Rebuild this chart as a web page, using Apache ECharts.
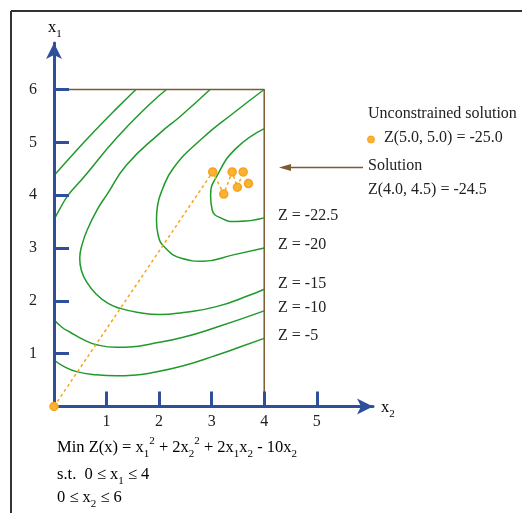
<!DOCTYPE html>
<html lang="en">
<head>
    <meta charset="UTF-8">
    <title>Min Z(x) contours</title>
    <style>
        *{
            margin:0;
            padding:0;
            box-sizing:border-box;
        }
        html, body{
            width:100%;
            height:100%;
            background:#fff;
        }
        #myChart{
            width:522px;
            height:513px;
        }
    </style>
</head>
<body>
<div id="myChart"></div>
<script src="https://cdn.jsdelivr.net/npm/echarts@6/dist/echarts.min.js"></script>
<script>
    // tick values on both axes
    var xTicks = [1, 2, 3, 4, 5];
    var yTicks = [1, 2, 3, 4, 5, 6];

    // contour lines, points as [x2, x1]
    var zMinus5 = [[0, 0.88], [0.2, 0.75], [0.43, 0.66], [0.8, 0.6], [1.19, 0.58], [1.5, 0.59], [1.82, 0.63], [2.46, 0.77], [3.09, 0.97], [3.55, 1.13], [4, 1.29]];
    var zMinus10 = [[0, 1.64], [0.15, 1.5], [0.3, 1.41], [0.55, 1.27], [0.81, 1.17], [1.19, 1.12], [1.5, 1.13], [1.82, 1.18], [2.46, 1.31], [3.09, 1.5], [4, 1.81]];
    var zMinus15 = [[2.97, 6], [2.39, 5.48], [2.01, 5.17], [1.38, 4.57], [1.0, 4.0], [0.83, 3.74], [0.64, 3.36], [0.53, 3.05], [0.49, 2.8], [0.52, 2.58], [0.62, 2.36], [0.8, 2.13], [1.03, 1.95], [1.25, 1.86], [1.6, 1.78], [2.01, 1.74], [2.46, 1.78], [3.09, 1.89], [3.73, 2.11], [4, 2.22]];
    var zMinus20 = [[4, 6], [3.41, 5.55], [2.78, 5.04], [2.27, 4.51], [2.05, 4.08], [1.97, 3.8], [1.95, 3.53], [1.98, 3.25], [2.12, 3.0], [2.44, 2.8], [2.84, 2.75], [3.41, 2.87], [4, 3.0]];
    var zMinus22_5 = [[4, 5.26], [3.47, 4.89], [3.12, 4.4], [2.98, 4.0], [3.01, 3.72], [3.19, 3.56], [3.47, 3.5], [4, 3.57]];
    var outerLeft1 = [[1.56, 6], [1.15, 5.6], [0.74, 5.18], [0.35, 4.76], [0, 4.37]];
    var outerLeft2 = [[2.14, 6], [1.82, 5.72], [1.19, 5.08], [0.55, 4.32], [0.27, 4.0], [0.1, 3.72], [0, 3.53]];

    // feasible region edge and search path
    var boxEdge = [[0, 6], [4, 6], [4, 0]];
    var searchPath = [[0, 0], [3.02, 4.44], [3.23, 4.02], [3.39, 4.44], [3.49, 4.15], [3.6, 4.44], [3.7, 4.22]];

    var zLabels = ['Z = -22.5', 'Z = -20', 'Z = -15', 'Z = -10', 'Z = -5'];

    var green = '#1f9a2a';
    var blue = '#2f4f9a';
    var brown = '#7d5a35';
    var orange = '#f7a21b';
    var font = '"Liberation Serif", "DejaVu Serif", serif';

    function contour(data) {
        return {
            type:'line',
            data:data,
            smooth:0.5,
            symbol:'none',
            silent:true,
            z:2,
            lineStyle:{color:green, width:1.5}
        };
    }

    var rich = {
        b:{fontFamily:font, fontSize:16.5, color:'#222', lineHeight:24, verticalAlign:'middle'},
        sub:{fontFamily:font, fontSize:11, color:'#222', lineHeight:24, verticalAlign:'bottom'},
        sup:{fontFamily:font, fontSize:11, color:'#222', lineHeight:24, verticalAlign:'top'}
    };

    var zLabelY = [216, 245, 284, 308, 336];
    var graphics = [
        {type:'line', shape:{x1:11, y1:11, x2:522, y2:11}, style:{stroke:'#333', lineWidth:2}},
        {type:'line', shape:{x1:11, y1:11, x2:11, y2:513}, style:{stroke:'#333', lineWidth:2}},
        {type:'text', x:48, y:16, style:{text:'{b|x}{sub|1}', rich:rich}},
        {type:'text', x:381, y:396, style:{text:'{b|x}{sub|2}', rich:rich}},
        {type:'text', x:368, y:106, style:{text:'Unconstrained solution', font:'16px ' + font, fill:'#222'}},
        {type:'circle', shape:{cx:371, cy:139.5, r:3.5}, style:{fill:'#f9b233', stroke:orange, lineWidth:1}},
        {type:'text', x:384, y:130, style:{text:'Z(5.0, 5.0) = -25.0', font:'16px ' + font, fill:'#222'}},
        {type:'line', shape:{x1:290, y1:167.5, x2:363, y2:167.5}, style:{stroke:brown, lineWidth:1.5}},
        {type:'polygon', shape:{points:[[279, 167.5], [291, 164], [291, 171]]}, style:{fill:brown}},
        {type:'text', x:368, y:158, style:{text:'Solution', font:'16px ' + font, fill:'#222'}},
        {type:'text', x:368, y:182, style:{text:'Z(4.0, 4.5) = -24.5', font:'16px ' + font, fill:'#222'}},
        {type:'text', x:57, y:436, style:{text:'{b|Min Z(x) = x}{sub|1}{sup|2}{b| + 2x}{sub|2}{sup|2}{b| + 2x}{sub|1}{b|x}{sub|2}{b| - 10x}{sub|2}', rich:rich}},
        {type:'text', x:57, y:463, style:{text:'{b|s.t.  0 \u2264 x}{sub|1}{b| \u2264 4}', rich:rich}},
        {type:'text', x:57, y:486, style:{text:'{b|0 \u2264 x}{sub|2}{b| \u2264 6}', rich:rich}}
    ];
    zLabels.forEach(function(t, i) {
        graphics.push({type:'text', x:278, y:zLabelY[i] - 8, style:{text:t, font:'16px ' + font, fill:'#222'}});
    });

    var myChart = echarts.init(document.getElementById('myChart'), null, {renderer:'canvas'});
    var option = {
        backgroundColor:'#fff',
        animation:false,
        grid:{left:54, top:43, width:319, height:363.5},
        xAxis:{
            type:'value',
            min:0,
            max:6.07,
            interval:1,
            z:3,
            splitLine:{show:false},
            axisLine:{show:true, symbol:['none', 'arrow'], symbolSize:[12, 16], lineStyle:{color:blue, width:3}},
            axisTick:{show:true, inside:true, length:15, customValues:xTicks, lineStyle:{color:blue, width:3}},
            axisLabel:{customValues:xTicks, margin:7, color:'#222', fontFamily:font, fontSize:16}
        },
        yAxis:{
            type:'value',
            min:0,
            max:6.88,
            interval:1,
            z:3,
            splitLine:{show:false},
            axisLine:{show:true, symbol:['none', 'arrow'], symbolSize:[12, 16], lineStyle:{color:blue, width:3}},
            axisTick:{show:true, inside:true, length:15, customValues:yTicks, lineStyle:{color:blue, width:3}},
            axisLabel:{customValues:yTicks, margin:17, color:'#222', fontFamily:font, fontSize:16}
        },
        series:[
            {
                type:'line',
                data:boxEdge,
                symbol:'none',
                silent:true,
                z:1,
                lineStyle:{color:brown, width:1.5}
            },
            contour(zMinus5),
            contour(zMinus10),
            contour(zMinus15),
            contour(zMinus20),
            contour(zMinus22_5),
            contour(outerLeft1),
            contour(outerLeft2),
            {
                type:'line',
                data:searchPath,
                symbol:'circle',
                symbolSize:8,
                silent:true,
                z:5,
                lineStyle:{color:orange, width:1.5, type:[3, 3]},
                itemStyle:{color:'#f9b233', borderColor:orange, borderWidth:1.5}
            }
        ],
        graphic:graphics
    };
    myChart.setOption(option);
</script>
</body>
</html>
